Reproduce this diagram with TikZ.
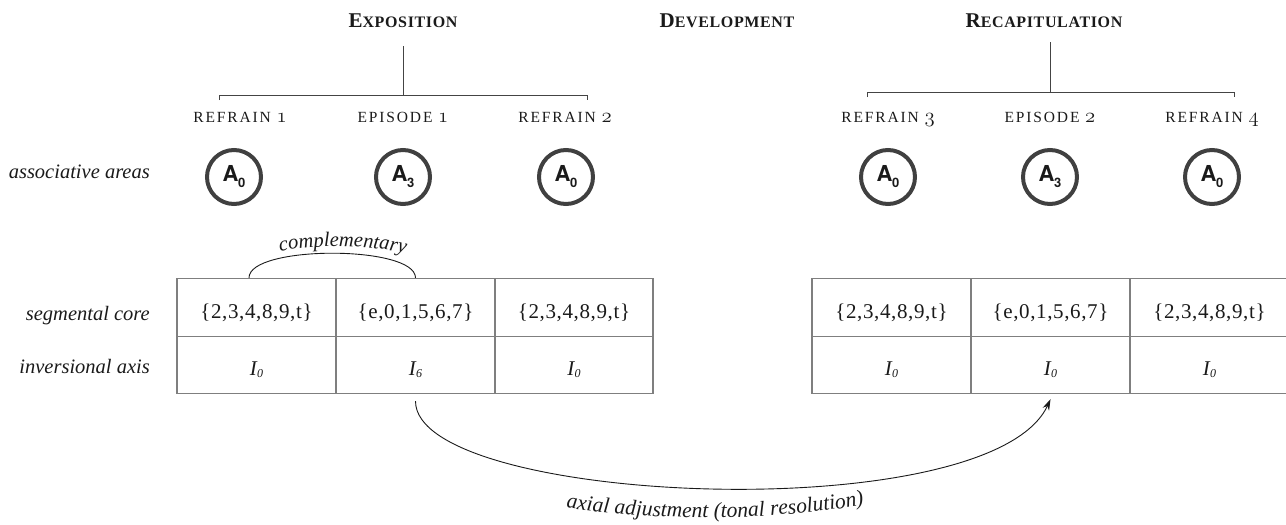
\documentclass[tikz,border=0pt]{standalone}
\usepackage{fontspec}
\setmainfont{Liberation Serif}
\newfontfamily\spacedrm{Liberation Serif}[LetterSpace=12]
\newfontfamily\cellfont{Liberation Serif}[LetterSpace=3]
\newfontfamily\titlefont{Liberation Serif}[LetterSpace=4]
\newfontfamily\heros{TeX Gyre Heros}
\usetikzlibrary{decorations.text,arrows.meta}
\definecolor{ringgray}{HTML}{404040}
\definecolor{tablegray}{HTML}{7F7F7F}
\definecolor{treegray}{HTML}{444444}
\definecolor{ink}{HTML}{1A1A1A}
% old-style figures from the math italic font
\newcommand\osfig[1]{{\fontencoding{OML}\fontfamily{lmm}\fontseries{m}\fontshape{it}\fontsize{20}{20}\selectfont #1}}
% section title in faked small capitals
\newcommand\sectitle[2]{{\titlefont\bfseries\fontsize{21}{23}\selectfont #1\fontsize{16}{18}\selectfont #2}}
\newcommand\unitname[2]{{\spacedrm\fontsize{15.5}{17}\selectfont #1\ \osfig{#2}}}
\newcommand\area[1]{{\heros\bfseries\fontsize{22}{22}\selectfont A\kern-0.5pt\raisebox{-6pt}{\fontsize{13}{13}\selectfont #1}}}
\newcommand\axis[1]{\textit{I}\kern-1pt\raisebox{-2.5pt}{\fontsize{12}{12}\selectfont\itshape #1}}
\begin{document}
\begin{tikzpicture}[x=1pt,y=-1pt,
  title/.style={anchor=base, inner sep=0pt, text=ink},
  part/.style={anchor=base, inner sep=0pt, text=ink},
  rowlabel/.style={anchor=base east, inner sep=0pt, text=ink, font=\fontsize{20.5}{23}\selectfont\itshape},
  ring/.style={circle, draw=ringgray, line width=4pt, minimum size=54pt, inner sep=0pt, text=ink},
  cell/.style={rectangle, draw=tablegray, line width=1.4pt, minimum width=159pt, inner sep=0pt},
  toprow/.style={cell, minimum height=58pt},
  botrow/.style={cell, minimum height=57pt},
  celltext/.style={anchor=base, inner sep=0pt, text=ink, font=\cellfont\fontsize{21}{23}\selectfont},
  treeline/.style={draw=treegray, line width=1pt},
  link/.style={draw=ink, line width=0.9pt},
]
\useasboundingbox (0,0) rectangle (1286,525);

% section titles
\node[title] (expo)  at (403,27)  {\sectitle{E}{XPOSITION}};
\node[title] (devel) at (727,27)  {\sectitle{D}{EVELOPMENT}};
\node[title] (recap) at (1044,27) {\sectitle{R}{ECAPITULATION}};

% brackets under the titles
\coordinate (expTop) at (403,46);
\coordinate (expMid) at (403,95);
\coordinate (expL)   at (219,95);
\coordinate (expR)   at (587,95);
\coordinate (recTop) at (1050,42);
\coordinate (recMid) at (1050,92);
\coordinate (recL)   at (867,92);
\coordinate (recR)   at (1234,92);
\draw[treeline] (expTop) -- (expMid);
\draw[treeline] ([yshift=-5pt]expL) -- (expL) -- (expR) -- ([yshift=-5pt]expR);
\draw[treeline] (recTop) -- (recMid);
\draw[treeline] ([yshift=-5pt]recL) -- (recL) -- (recR) -- ([yshift=-5pt]recR);

% formal units
\node[part] (p1) at (240,122)  {\unitname{REFRAIN}{1}};
\node[part] (p2) at (403,122)  {\unitname{EPISODE}{1}};
\node[part] (p3) at (565,122)  {\unitname{REFRAIN}{2}};
\node[part] (p4) at (888,122)  {\unitname{REFRAIN}{3}};
\node[part] (p5) at (1050,122) {\unitname{EPISODE}{2}};
\node[part] (p6) at (1212,122) {\unitname{REFRAIN}{4}};

% row labels
\node[rowlabel] (lblArea) at (150,178) {associative areas};
\node[rowlabel] (lblCore) at (150,320) {segmental core};
\node[rowlabel] (lblAxis) at (150,373) {inversional axis};

% associative areas
\node[ring] (a1) at (234,177)  {\area{0}};
\node[ring] (a2) at (403,177)  {\area{3}};
\node[ring] (a3) at (566,177)  {\area{0}};
\node[ring] (a4) at (888,177)  {\area{0}};
\node[ring] (a5) at (1050,177) {\area{3}};
\node[ring] (a6) at (1212,177) {\area{0}};

% exposition table
\node[toprow] (s1) at (256.5,307.5) {};
\node[toprow] (s2) at (415.5,307.5) {};
\node[toprow, minimum width=158pt] (s3) at (574,307.5) {};
\node[botrow] (i1) at (256.5,365) {};
\node[botrow] (i2) at (415.5,365) {};
\node[botrow, minimum width=158pt] (i3) at (574,365) {};
% recapitulation table
\node[toprow] (s4) at (891.5,307.5)  {};
\node[toprow] (s5) at (1050.5,307.5) {};
\node[toprow] (s6) at (1209.5,307.5) {};
\node[botrow] (i4) at (891.5,365)  {};
\node[botrow] (i5) at (1050.5,365) {};
\node[botrow] (i6) at (1209.5,365) {};

% cell contents
\node[celltext] (t1) at ([yshift=-10.5pt]s1.center) {\{2,3,4,8,9,t\}};
\node[celltext] (t2) at ([yshift=-10.5pt]s2.center) {\{e,0,1,5,6,7\}};
\node[celltext] (t3) at ([yshift=-10.5pt]s3.center) {\{2,3,4,8,9,t\}};
\node[celltext] (t4) at ([yshift=-10.5pt]s4.center) {\{2,3,4,8,9,t\}};
\node[celltext] (t5) at ([yshift=-10.5pt]s5.center) {\{e,0,1,5,6,7\}};
\node[celltext] (t6) at ([yshift=-10.5pt]s6.center) {\{2,3,4,8,9,t\}};
\node[celltext] (x1) at ([yshift=-10pt]i1.center) {\axis{0}};
\node[celltext] (x2) at ([yshift=-10pt]i2.center) {\axis{6}};
\node[celltext] (x3) at ([yshift=-10pt]i3.center) {\axis{0}};
\node[celltext] (x4) at ([yshift=-10pt]i4.center) {\axis{0}};
\node[celltext] (x5) at ([yshift=-10pt]i5.center) {\axis{0}};
\node[celltext] (x6) at ([yshift=-10pt]i6.center) {\axis{0}};

% complementary segments
\draw[link] ([xshift=-7.5pt]s1.north) .. controls (249,245) and (415.5,245) .. (s2.north);
\path[decorate, decoration={text along path, text align=center,
  text={|\fontsize{20.5}{20.5}\selectfont\itshape\color{ink}|complementary}}]
  (255,258) .. controls (300,242) and (385,242) .. (430,262);

% axial adjustment
\draw[link, -{Stealth[length=11pt,width=7pt]}] ([yshift=-7pt]i2.south)
  .. controls (415.5,505) and (990,530) .. ([yshift=-5pt]i5.south);
\path[decorate, decoration={text along path, text align=center,
  text={|\fontsize{21.5}{21.5}\selectfont\itshape\color{ink}|axial adjustment (tonal resolution)}}]
  (535,503) .. controls (650,523) and (780,523) .. (895,499);
\end{tikzpicture}
\end{document}
